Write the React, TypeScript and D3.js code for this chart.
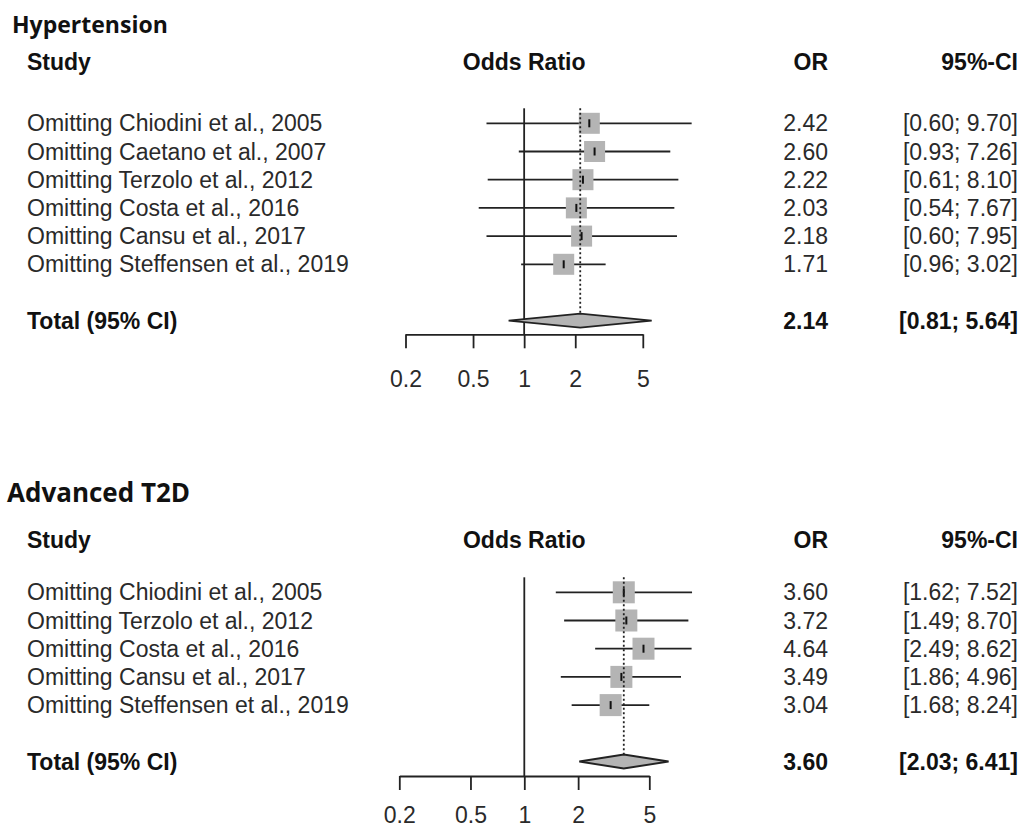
import React, { useRef, useEffect } from "react";
import * as d3 from "d3";

// Hypertension panel
const htnStudies = [
  "Omitting Chiodini et al., 2005",
  "Omitting Caetano et al., 2007",
  "Omitting Terzolo et al., 2012",
  "Omitting Costa et al., 2016",
  "Omitting Cansu et al., 2017",
  "Omitting Steffensen et al., 2019",
];
const htnOR = [2.42, 2.6, 2.22, 2.03, 2.18, 1.71];
const htnLower = [0.6, 0.93, 0.61, 0.54, 0.6, 0.96];
const htnUpper = [9.7, 7.26, 8.1, 7.67, 7.95, 3.02];
const htnTotal = [2.14, 0.81, 5.64];

// Advanced T2D panel
const t2dStudies = [
  "Omitting Chiodini et al., 2005",
  "Omitting Terzolo et al., 2012",
  "Omitting Costa et al., 2016",
  "Omitting Cansu et al., 2017",
  "Omitting Steffensen et al., 2019",
];
const t2dOR = [3.6, 3.72, 4.64, 3.49, 3.04];
// whiskers as they are drawn in the figure
const t2dLower = [1.5, 1.67, 2.49, 1.6, 1.84];
const t2dUpper = [8.67, 8.27, 8.62, 7.52, 5.0];
// CI column as printed
const t2dCI = ["[1.62; 7.52]", "[1.49; 8.70]", "[2.49; 8.62]", "[1.86; 4.96]", "[1.68; 8.24]"];
const t2dTotal = [3.6, 2.03, 6.41];

const axisTicks = [0.2, 0.5, 1, 2, 5];

const FONT = "'Liberation Sans', Arial, sans-serif";
const fmt = d3.format(".2f");

const drawPanel = (svg, cfg) => {
  const { title, titleY, headY, studies, or, lower, upper, ci, total, range, row1, step, axisY, box, tickPad } = cfg;
  const x = d3.scaleLog().domain([0.2, 5]).range(range);
  const y = i => row1 + i * step;
  const totalY = y(studies.length + 1);
  const g = svg.append("g");

  g.append("text")
    .attr("x", title.x)
    .attr("y", titleY)
    .attr("font-family", "'Open Sans', sans-serif")
    .attr("font-weight", 700)
    .attr("font-size", title.size)
    .attr("fill", "#111")
    .text(title.text);

  // column headers
  const head = [
    { t: "Study", x: 27, a: "start" },
    { t: "Odds Ratio", x: x(1), a: "middle" },
    { t: "OR", x: 828, a: "end" },
    { t: "95%-CI", x: 1018, a: "end" },
  ];
  g.selectAll(".head")
    .data(head)
    .enter()
    .append("text")
    .attr("x", d => d.x)
    .attr("y", headY)
    .attr("text-anchor", d => d.a)
    .attr("font-family", FONT)
    .attr("font-weight", 700)
    .attr("font-size", 23)
    .attr("fill", "#111")
    .text(d => d.t);

  // study rows text
  const rows = g.selectAll(".row").data(studies).enter().append("g");
  rows.append("text")
    .attr("x", 27)
    .attr("y", (d, i) => y(i) + 8)
    .text(d => d);
  rows.append("text")
    .attr("x", 828)
    .attr("y", (d, i) => y(i) + 8)
    .attr("text-anchor", "end")
    .text((d, i) => fmt(or[i]));
  rows.append("text")
    .attr("x", 1018)
    .attr("y", (d, i) => y(i) + 8)
    .attr("text-anchor", "end")
    .text((d, i) => ci[i]);
  rows.selectAll("text")
    .attr("font-family", FONT)
    .attr("font-size", 23)
    .attr("fill", "#2a2a2a");

  // total row text
  const tot = [
    { t: "Total (95% CI)", x: 27, a: "start" },
    { t: fmt(total[0]), x: 828, a: "end" },
    { t: `[${fmt(total[1])}; ${fmt(total[2])}]`, x: 1018, a: "end" },
  ];
  g.selectAll(".tot")
    .data(tot)
    .enter()
    .append("text")
    .attr("x", d => d.x)
    .attr("y", totalY + 8)
    .attr("text-anchor", d => d.a)
    .attr("font-family", FONT)
    .attr("font-weight", 700)
    .attr("font-size", 23)
    .attr("fill", "#111")
    .text(d => d.t);

  // no-effect line
  g.append("line")
    .attr("x1", x(1))
    .attr("x2", x(1))
    .attr("y1", row1 - 15)
    .attr("y2", axisY)
    .attr("stroke", "#222")
    .attr("stroke-width", 1.8);

  // pooled estimate dotted line
  g.append("line")
    .attr("x1", x(total[0]))
    .attr("x2", x(total[0]))
    .attr("y1", row1 - 15)
    .attr("y2", totalY - 7)
    .attr("stroke", "#222")
    .attr("stroke-width", 1.8)
    .attr("stroke-dasharray", "2,2.5");

  // whiskers, boxes, point marks
  rows.append("line")
    .attr("x1", (d, i) => x(lower[i]))
    .attr("x2", (d, i) => x(upper[i]))
    .attr("y1", (d, i) => y(i))
    .attr("y2", (d, i) => y(i))
    .attr("stroke", "#222")
    .attr("stroke-width", 1.8);
  rows.append("rect")
    .attr("x", (d, i) => x(or[i]) - box / 2)
    .attr("y", (d, i) => y(i) - box / 2)
    .attr("width", box)
    .attr("height", box)
    .attr("fill", "#b4b4b4");
  rows.append("line")
    .attr("x1", (d, i) => x(or[i]))
    .attr("x2", (d, i) => x(or[i]))
    .attr("y1", (d, i) => y(i) - 4)
    .attr("y2", (d, i) => y(i) + 4)
    .attr("stroke", "#111")
    .attr("stroke-width", 2);

  // summary diamond
  const h = 7;
  g.append("polygon")
    .attr("points", [
      [x(total[1]), totalY],
      [x(total[0]), totalY - h],
      [x(total[2]), totalY],
      [x(total[0]), totalY + h],
    ].map(p => p.join(",")).join(" "))
    .attr("fill", "#b4b4b4")
    .attr("stroke", "#222")
    .attr("stroke-width", 1.8);

  // axis
  const axis = d3.axisBottom(x)
    .tickValues(axisTicks)
    .tickFormat(d => String(d))
    .tickSize(14)
    .tickSizeOuter(0)
    .tickPadding(tickPad);
  const ax = g.append("g")
    .attr("transform", `translate(0, ${axisY})`)
    .style("color", "#222")
    .call(axis);
  ax.selectAll("path, line").attr("stroke-width", 1.8);
  ax.selectAll("text")
    .attr("font-family", FONT)
    .attr("font-size", 23)
    .attr("fill", "#2a2a2a");
};

const ForestPlots = () => {
  const svgRef = useRef(null);
  useEffect(() => {
    const svg = d3.select(svgRef.current);
    svg.selectAll("*").remove();
    svg.append("rect").attr("width", 1025).attr("height", 830).attr("fill", "#fff");

    drawPanel(svg, {
      title: { text: "Hypertension", x: 12, size: 23 },
      titleY: 33,
      headY: 70,
      studies: htnStudies,
      or: htnOR,
      lower: htnLower,
      upper: htnUpper,
      ci: htnStudies.map((d, i) => `[${fmt(htnLower[i])}; ${fmt(htnUpper[i])}]`),
      total: htnTotal,
      range: [405.5, 642.8],
      row1: 123.3,
      step: 28.2,
      axisY: 334.3,
      box: 21,
      tickPad: 22,
    });

    drawPanel(svg, {
      title: { text: "Advanced T2D", x: 7, size: 26 },
      titleY: 502,
      headY: 548,
      studies: t2dStudies,
      or: t2dOR,
      lower: t2dLower,
      upper: t2dUpper,
      ci: t2dCI,
      total: t2dTotal,
      range: [399.3, 649.3],
      row1: 592.3,
      step: 28.2,
      axisY: 776,
      box: 22,
      tickPad: 17,
    });
  }, []);

  return (
    <svg
      ref={svgRef}
      width={1025}
      height={830}
      style={{ position: "absolute", left: 0, top: 0 }}
    />
  );
};

const App = () => <ForestPlots />;

export default App;
